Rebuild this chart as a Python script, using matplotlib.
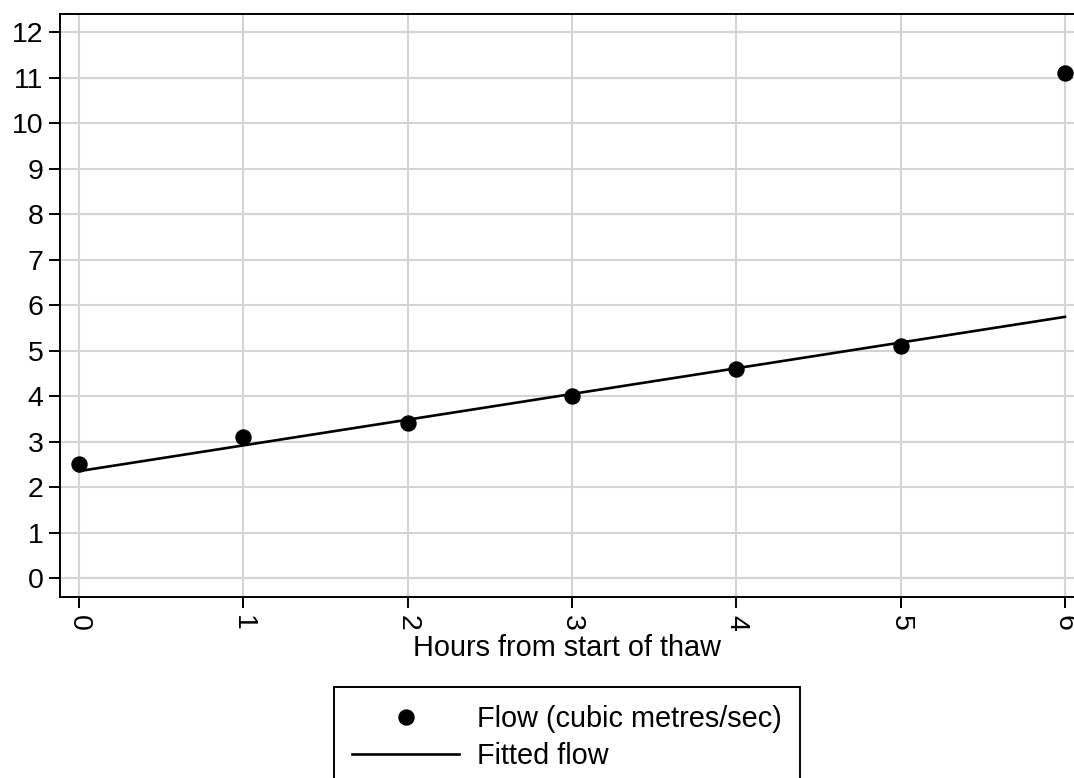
import matplotlib.pyplot as plt

plt.rcParams['font.family'] = ['Liberation Sans', 'DejaVu Sans']

# Observed flow
hours = [0, 1, 2, 3, 4, 5, 6]
flow = [2.5, 3.1, 3.4, 4.0, 4.6, 5.1, 11.1]

# Fitted line end points
fit_hours = [0, 6]
fit_flow = [2.35, 5.74]

fig = plt.figure(figsize=(10.74, 7.78), dpi=100)
ax = fig.add_axes([0.0559, 0.2326, 0.9441, 0.7494])

ax.plot(hours, flow, 'o', color='black', markersize=10.8, label='Flow (cubic metres/sec)',
        zorder=3, clip_on=False)
ax.plot(fit_hours, fit_flow, '-', color='black', linewidth=1.9, label='Fitted flow', zorder=2)

ax.set_xlim(-0.1155, 6.055)
ax.set_ylim(-0.418, 12.396)
ax.set_xticks(range(0, 7))
ax.set_yticks(range(0, 13))
ax.grid(True, color='#d4d4d4', linewidth=1.5)
ax.set_axisbelow(True)

for s in ['left', 'bottom', 'top']:
    ax.spines[s].set_linewidth(1.4)
ax.spines['right'].set_visible(False)

ax.tick_params(axis='both', labelsize=20.5, length=8, width=1.4, color='black')
ax.tick_params(axis='y', pad=4)
ax.tick_params(axis='x', pad=5, labelrotation=-90)

ax.set_xlabel('Hours from start of thaw', fontsize=20.8, labelpad=2)

leg = fig.legend(loc='upper center', bbox_to_anchor=(0.528, 0.117), fontsize=20.8,
                 frameon=True, fancybox=False, edgecolor='black', framealpha=1,
                 handlelength=3.7, handletextpad=0.62, labelspacing=0.33,
                 borderpad=0.62, borderaxespad=0, markerscale=1.0)
leg.get_frame().set_linewidth(1.4)

fig.savefig('out.png', dpi=100)
